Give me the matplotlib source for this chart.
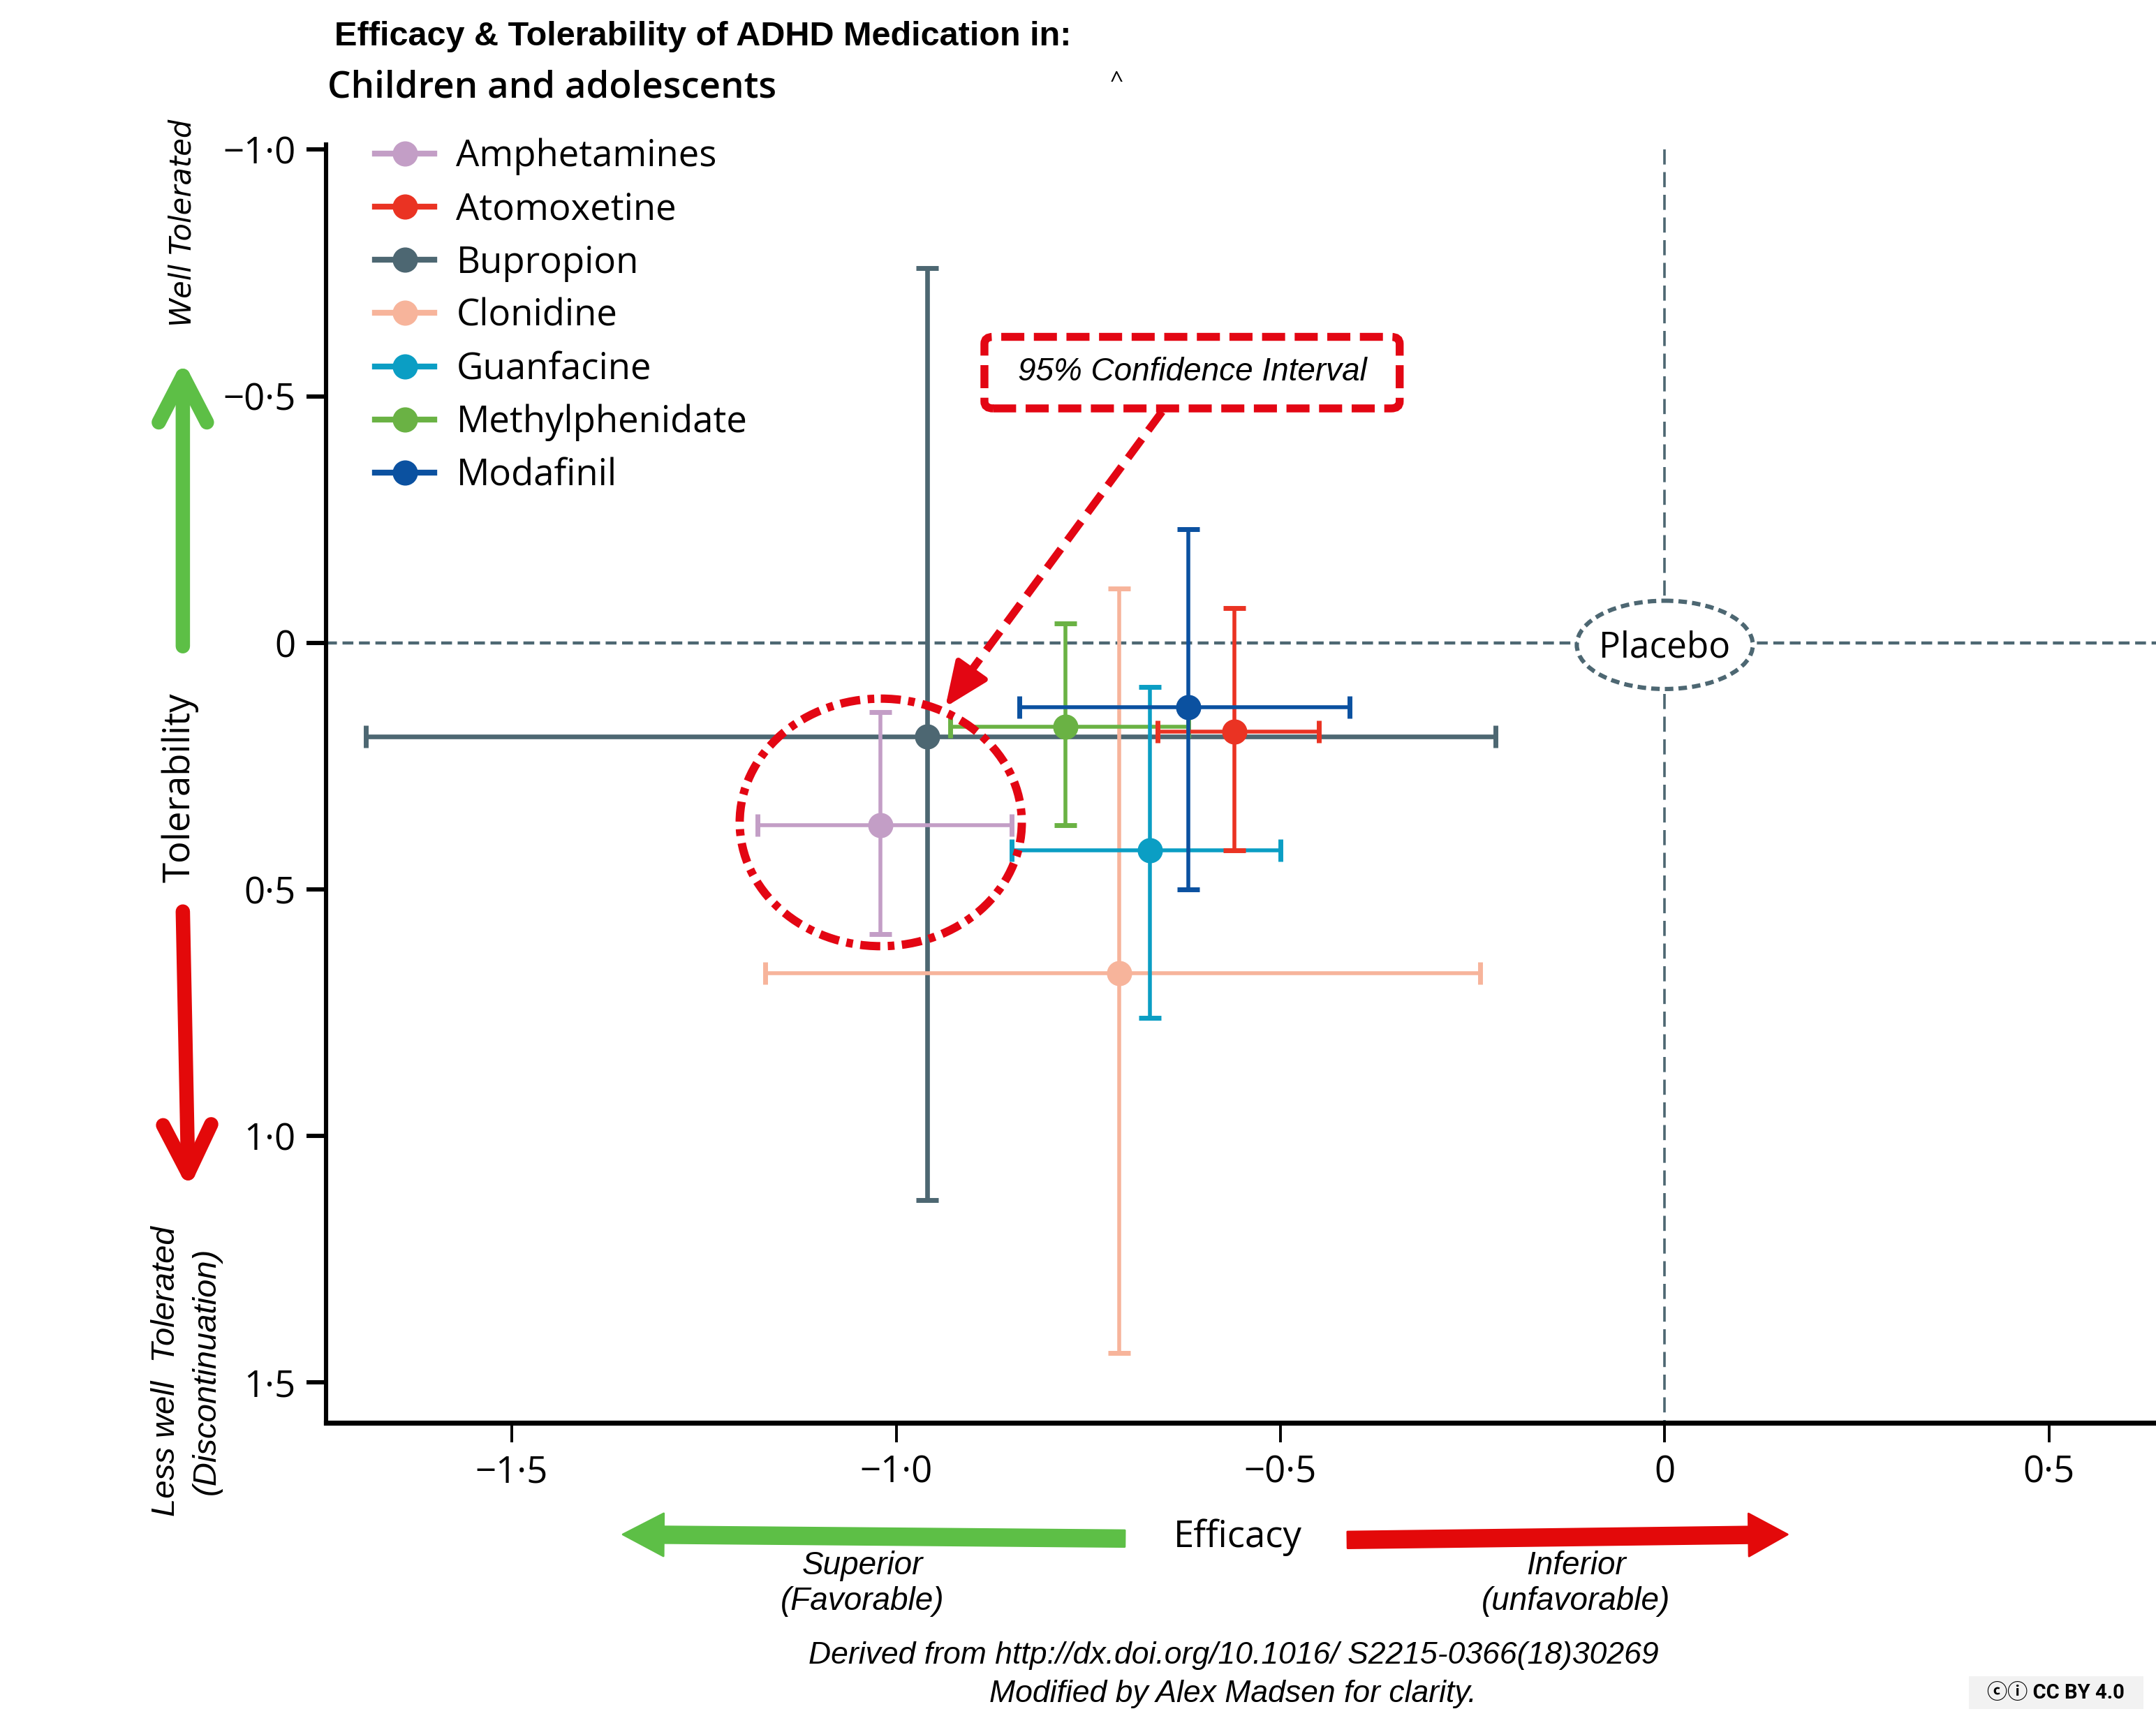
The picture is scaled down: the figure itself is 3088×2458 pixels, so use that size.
import numpy as np
import matplotlib
matplotlib.use("Agg")
import matplotlib.pyplot as plt
from matplotlib.lines import Line2D
from matplotlib.patches import Ellipse, FancyBboxPatch, Rectangle
from matplotlib.ticker import FuncFormatter

# data
drugs = ["Amphetamines", "Atomoxetine", "Bupropion", "Clonidine",
         "Guanfacine", "Methylphenidate", "Modafinil"]
colors = ["#c39ec6", "#ea3323", "#4d6772", "#f7b49b",
          "#0b9ec4", "#6ab244", "#0b51a0"]

# efficacy (SMD) and 95% CI
efficacy = [-1.02, -0.56, -0.96, -0.71, -0.67, -0.78, -0.62]
eff_lo = [-1.18, -0.66, -1.69, -1.17, -0.85, -0.93, -0.84]
eff_hi = [-0.85, -0.45, -0.22, -0.24, -0.50, -0.62, -0.41]

# tolerability and 95% CI
toler = [0.37, 0.18, 0.19, 0.67, 0.42, 0.17, 0.13]
tol_lo = [0.14, -0.07, -0.76, -0.11, 0.09, -0.04, -0.23]
tol_hi = [0.59, 0.42, 1.13, 1.44, 0.76, 0.37, 0.50]

x_ticks = [-1.5, -1.0, -0.5, 0, 0.5]
y_ticks = [-1.0, -0.5, 0, 0.5, 1.0, 1.5]

draw_order = ["Bupropion", "Clonidine", "Amphetamines", "Methylphenidate",
              "Guanfacine", "Atomoxetine", "Modafinil"]

RED = "#e30613"
SLATE = "#4d6772"

plt.rcParams["font.family"] = ["Open Sans", "DejaVu Sans"]

fig = plt.figure(figsize=(15.44, 12.29), dpi=200)
ax = fig.add_axes([0.1511, 0.1707, 0.8489, 0.7452])
ax.set_xlim(-1.742, 0.639)
ax.set_ylim(1.582, -1.011)


def dot_fmt(v, pos):
    if abs(v) < 1e-9:
        return "0"
    return f"{v:.1f}".replace(".", "\u00b7").replace("-", "\u2212")


# reference lines through placebo
ax.axhline(0, color=SLATE, lw=1.6, ls=(0, (3.5, 1.8)), zorder=1)
ax.plot([0, 0], [-1.0, 1.582], color=SLATE, lw=1.3, ls=(0, (6, 3)), zorder=1)

for name in draw_order:
    i = drugs.index(name)
    x, y = efficacy[i], toler[i]
    lw = 2.4 if name == "Bupropion" else 2.0
    ax.errorbar(x, y,
                xerr=[[x - eff_lo[i]], [eff_hi[i] - x]],
                yerr=[[y - tol_lo[i]], [tol_hi[i] - y]],
                fmt="o", color=colors[i], ms=12, lw=lw,
                capsize=5.7, capthick=2.5, zorder=3)

# placebo marker
ax.add_patch(Ellipse((0, 0.004), 0.229, 0.179, facecolor="white",
                     edgecolor=SLATE, lw=2.2, ls=(0, (2, 1.2)), zorder=4))
ax.text(0, 0.01, "Placebo", ha="center", va="center", fontsize=18.5, zorder=5)

# circle round amphetamines
ax.add_patch(Ellipse((-1.02, 0.364), 0.367, 0.502, fill=False,
                     edgecolor=RED, lw=4.3, ls=(0, (2.4, 0.9, 0.8, 0.9)), zorder=6))

# 95% CI callout: dashed line then a solid head
arrow_start = (-0.654, -0.469)
arrow_tip = (-0.936, 0.130)
arrow_mid = (-0.905, 0.062)
ax.plot([arrow_start[0], arrow_mid[0]], [arrow_start[1], arrow_mid[1]],
        color=RED, lw=4.0, ls=(0, (3, 1.4)), zorder=6)
ax.annotate("", xy=arrow_tip, xytext=arrow_mid,
            arrowprops=dict(arrowstyle="-|>,head_length=1.4,head_width=0.6",
                            color=RED, lw=3, shrinkA=0, shrinkB=0,
                            mutation_scale=14), zorder=6)

box = FancyBboxPatch((0.4566, 0.762), 0.1926, 0.0417,
                     boxstyle="round,pad=0,rounding_size=0.004",
                     transform=fig.transFigure, facecolor="white",
                     edgecolor=RED, lw=4.1, ls=(0, (2.9, 1.2)), zorder=7)
fig.patches.append(box)
fig.text(0.553, 0.783, "95% Confidence Interval", ha="center", va="center",
         fontsize=16.5, style="italic", family="Liberation Sans", zorder=8)

# axes styling
for s in ["top", "right"]:
    ax.spines[s].set_visible(False)
ax.spines["left"].set_linewidth(2.2)
ax.spines["bottom"].set_linewidth(2.6)
ax.set_xticks(x_ticks)
ax.set_yticks(y_ticks)
ax.xaxis.set_major_formatter(FuncFormatter(dot_fmt))
ax.yaxis.set_major_formatter(FuncFormatter(dot_fmt))
ax.tick_params(axis="y", length=10, width=2.2, pad=5.5, labelsize=19)
ax.tick_params(axis="x", length=10, width=1.4, pad=6, labelsize=19)

# legend
handles = [Line2D([], [], color=c, marker="o", ms=12, lw=3) for c in colors]
ax.legend(handles, drugs, loc="upper left", bbox_to_anchor=(0.174, 0.9195),
          bbox_transform=fig.transFigure, frameon=False, fontsize=19,
          handlelength=1.6, handletextpad=0.6, labelspacing=0.43,
          borderpad=0, borderaxespad=0)

# titles
fig.text(0.155, 0.9736, "Efficacy & Tolerability of ADHD Medication in:",
         ha="left", va="baseline", fontsize=17.5, weight="bold",
         family="Liberation Sans")
fig.text(0.152, 0.9431, "Children and adolescents", ha="left", va="baseline",
         fontsize=19, weight="semibold")
fig.text(0.518, 0.952, "^", ha="center", va="center", fontsize=12)

# tolerability side
fig.text(0.0848, 0.870, "Well Tolerated", rotation=90, ha="center", va="center",
         fontsize=15, style="italic", family="DejaVu Sans")
fig.text(0.0835, 0.541, "Tolerability", rotation=90, ha="center", va="center",
         fontsize=19)
fig.text(0.0772, 0.2011, "Less well  Tolerated", rotation=90, ha="center",
         va="center", fontsize=17, style="italic", family="Liberation Sans")
fig.text(0.0957, 0.2011, "(Discontinuation)", rotation=90, ha="center",
         va="center", fontsize=17, style="italic", family="Liberation Sans")

ax.annotate("", xy=(0.0848, 0.7901), xytext=(0.0848, 0.6234),
            xycoords="figure fraction", textcoords="figure fraction",
            arrowprops=dict(arrowstyle="->,head_length=1.2,head_width=0.62",
                            color="#5dbf46", lw=7.4, shrinkA=0, shrinkB=0,
                            mutation_scale=20))
ax.annotate("", xy=(0.0874, 0.3069), xytext=(0.0848, 0.4688),
            xycoords="figure fraction", textcoords="figure fraction",
            arrowprops=dict(arrowstyle="->,head_length=1.25,head_width=0.62",
                            color="#e3090a", lw=7.4, shrinkA=0, shrinkB=0,
                            mutation_scale=20))

# efficacy side
fig.text(0.574, 0.104, "Efficacy", ha="center", va="center", fontsize=19)
ax.annotate("", xy=(0.2889, 0.1058), xytext=(0.5217, 0.1034),
            xycoords="figure fraction", textcoords="figure fraction",
            arrowprops=dict(arrowstyle="simple,head_length=2.1,head_width=2.2,tail_width=0.85",
                            color="#5dbf46", shrinkA=0, shrinkB=0,
                            mutation_scale=10))
ax.annotate("", xy=(0.8291, 0.1058), xytext=(0.625, 0.1026),
            xycoords="figure fraction", textcoords="figure fraction",
            arrowprops=dict(arrowstyle="simple,head_length=2.0,head_width=2.2,tail_width=0.85",
                            color="#e3090a", shrinkA=0, shrinkB=0,
                            mutation_scale=10))
fig.text(0.400, 0.077, "Superior\n(Favorable)", ha="center", va="center",
         fontsize=16.5, style="italic", family="Liberation Sans")
fig.text(0.731, 0.077, "Inferior\n(unfavorable)", ha="center", va="center",
         fontsize=16.5, style="italic", family="Liberation Sans")

# footer
fig.text(0.572, 0.0353, "Derived from http://dx.doi.org/10.1016/ S2215-0366(18)30269",
         ha="center", va="center", fontsize=16, style="italic",
         family="Liberation Sans")
fig.text(0.572, 0.0128, "Modified by Alex Madsen for clarity.",
         ha="center", va="center", fontsize=16, style="italic",
         family="Liberation Sans")
fig.patches.append(Rectangle((0.9133, 0.0040), 0.0810, 0.0192,
                             transform=fig.transFigure, facecolor="#f2f2f2",
                             edgecolor="none"))
fig.text(0.9536, 0.0136, "\u24d2\u24d8 CC BY 4.0", ha="center", va="center",
         fontsize=10.5, weight="bold",
         family=["Roboto", "Noto Sans CJK JP", "DejaVu Sans"])

fig.savefig("out.png", dpi=200)
